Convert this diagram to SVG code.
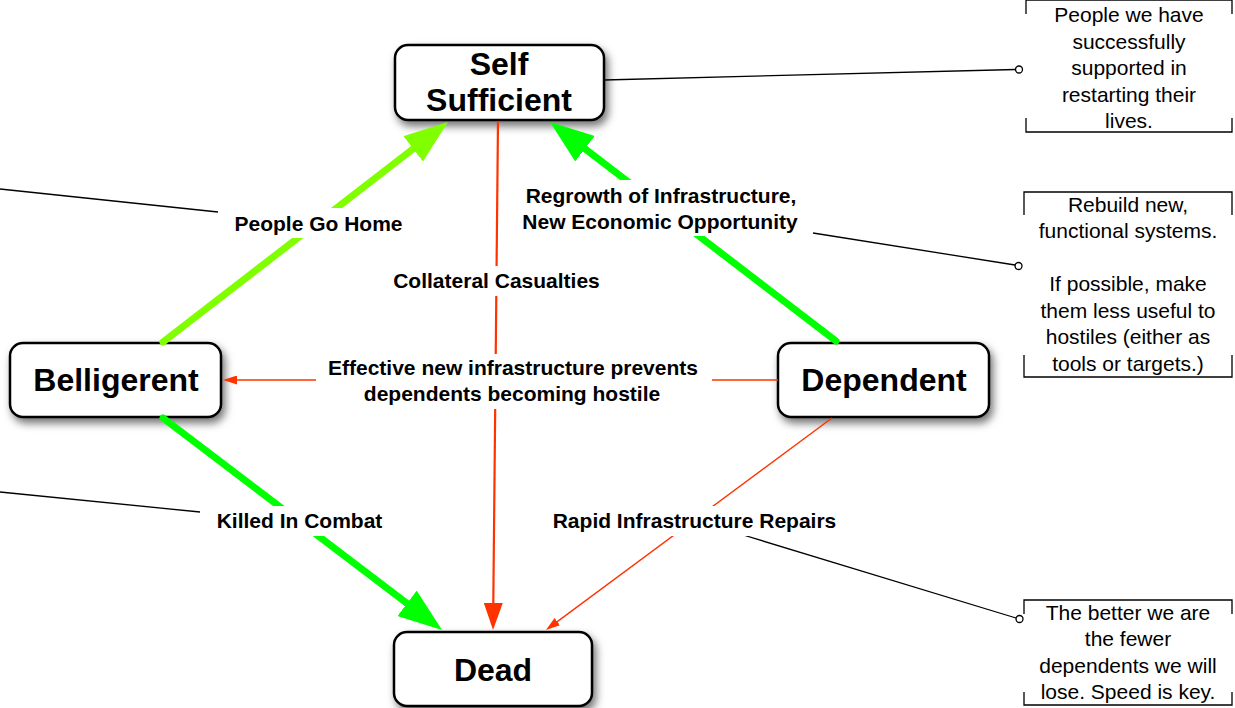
<svg xmlns="http://www.w3.org/2000/svg" width="1235" height="708" viewBox="0 0 1235 708">
<style>
  .node rect { fill: #ffffff; stroke: #000000; stroke-width: 2.5; filter: url(#shadow); }
  .ntext { font-family: "Liberation Sans", Arial, Helvetica, sans-serif; font-weight: bold; font-size: 32px; fill: #000; text-anchor: middle; }
  .lbl { font-family: "Liberation Sans", Arial, Helvetica, sans-serif; font-weight: bold; font-size: 21px; fill: #000; text-anchor: middle; }
  .lblbg { fill: #ffffff; }
  .note { font-family: "Liberation Sans", Arial, Helvetica, sans-serif; font-size: 21px; fill: #000; text-anchor: middle; }
  .bracket { fill: none; stroke: #000; stroke-width: 1.3; }
  .lead { fill: none; stroke: #000; stroke-width: 1.3; }
  .dot { fill: #fff; stroke: #000; stroke-width: 1.3; }
  .lg { fill: none; stroke: #80ff00; stroke-width: 7; stroke-linecap: round; }
  .g { fill: none; stroke: #00ff00; stroke-width: 7; stroke-linecap: round; }
  .rbig { fill: none; stroke: #ff3300; stroke-width: 2.2; }
  .rsm { fill: none; stroke: #ff3300; stroke-width: 1.4; }
</style>
<defs>
  <filter id="shadow" x="-20%" y="-30%" width="140%" height="170%">
    <feDropShadow dx="3" dy="5" stdDeviation="4" flood-color="#000" flood-opacity="0.55"/>
  </filter>
  <marker id="headLG" viewBox="0 0 44 32" markerWidth="44" markerHeight="32" refX="30" refY="16" orient="auto" markerUnits="userSpaceOnUse">
    <path d="M0,0 L44,16 L0,32 Z" fill="#80ff00"/>
  </marker>
  <marker id="headG" viewBox="0 0 44 32" markerWidth="44" markerHeight="32" refX="30" refY="16" orient="auto" markerUnits="userSpaceOnUse">
    <path d="M0,0 L44,16 L0,32 Z" fill="#00ff00"/>
  </marker>
  <marker id="headRB" viewBox="0 0 27 19" markerWidth="27" markerHeight="19" refX="20" refY="9.5" orient="auto" markerUnits="userSpaceOnUse">
    <path d="M0,0 L27,9.5 L0,19 Z" fill="#ff3300"/>
  </marker>
  <marker id="headRS" viewBox="0 0 14 9" markerWidth="14" markerHeight="9" refX="10" refY="4.5" orient="auto" markerUnits="userSpaceOnUse">
    <path d="M0,0 L14,4.5 L0,9 Z" fill="#ff3300"/>
  </marker>
</defs>
<rect x="0" y="0" width="1235" height="708" fill="#ffffff"/>

<g id="node-self-sufficient" class="node">
  <rect x="395" y="45" width="209" height="75" rx="13" ry="13"/>
  <text class="ntext" x="499" y="75">Self</text>
  <text class="ntext" x="499" y="111">Sufficient</text>
</g>
<g id="node-belligerent" class="node">
  <rect x="10" y="343" width="211" height="74" rx="13" ry="13"/>
  <text class="ntext" x="116" y="391">Belligerent</text>
</g>
<g id="node-dependent" class="node">
  <rect x="778" y="343" width="211" height="74" rx="13" ry="13"/>
  <text class="ntext" x="884" y="391">Dependent</text>
</g>
<g id="node-dead" class="node">
  <rect x="394" y="632" width="198" height="74" rx="13" ry="13"/>
  <text class="ntext" x="493" y="681">Dead</text>
</g>

<g id="connectors">
  <line class="lg" x1="163" y1="342" x2="436.9" y2="130.6" marker-end="url(#headLG)"/>
  <line class="g" x1="836" y1="341" x2="561.1" y2="130.5" marker-end="url(#headG)"/>
  <line class="g" x1="163" y1="418" x2="430.9" y2="621.5" marker-end="url(#headG)"/>
  <line class="rbig" x1="498" y1="121" x2="493.1" y2="623" marker-end="url(#headRB)"/>
  <line class="rsm" x1="778" y1="380" x2="227" y2="380" marker-end="url(#headRS)"/>
  <line class="rsm" x1="832" y1="418" x2="549.2" y2="627.6" marker-end="url(#headRS)"/>
  <line class="lead" x1="604" y1="80" x2="1015.5" y2="69.5"/>
  <line class="lead" x1="813" y1="233" x2="1015" y2="265"/>
  <line class="lead" x1="740" y1="534" x2="1016" y2="618"/>
  <line class="lead" x1="0" y1="189" x2="218" y2="212"/>
  <line class="lead" x1="0" y1="492" x2="200" y2="512"/>
  <circle class="dot" cx="1019" cy="69.5" r="3.5"/>
  <circle class="dot" cx="1018.5" cy="266" r="3.5"/>
  <circle class="dot" cx="1019.5" cy="619" r="3.5"/>
</g>

<g id="labels">
  <rect class="lblbg" x="228" y="208" width="181" height="30"/>
  <text class="lbl" x="318.5" y="231">People Go Home</text>
  <rect class="lblbg" x="515" y="180" width="292" height="56"/>
  <text class="lbl" x="661" y="203">Regrowth of Infrastructure,</text>
  <text class="lbl" x="660" y="229">New Economic Opportunity</text>
  <rect class="lblbg" x="386" y="266" width="221" height="30"/>
  <text class="lbl" x="496.5" y="288">Collateral Casualties</text>
  <rect class="lblbg" x="316" y="354" width="396" height="55"/>
  <text class="lbl" x="513" y="375">Effective new infrastructure prevents</text>
  <text class="lbl" x="512" y="401">dependents becoming hostile</text>
  <rect class="lblbg" x="210" y="506" width="180" height="30"/>
  <text class="lbl" x="299.5" y="528">Killed In Combat</text>
  <rect class="lblbg" x="545" y="506" width="299" height="30"/>
  <text class="lbl" x="694.5" y="528">Rapid Infrastructure Repairs</text>
</g>

<g id="note-self-sufficient">
  <path class="bracket" d="M1026,14 V0 H1232 V14"/>
  <path class="bracket" d="M1026,118 V132 H1232 V118"/>
  <text class="note" x="1129" y="22">People we have</text>
  <text class="note" x="1129" y="49">successfully</text>
  <text class="note" x="1129" y="75">supported in</text>
  <text class="note" x="1129" y="102">restarting their</text>
  <text class="note" x="1129" y="128">lives.</text>
</g>
<g id="note-rebuild">
  <path class="bracket" d="M1024,215 V192 H1232 V215"/>
  <path class="bracket" d="M1024,355 V377 H1232 V355"/>
  <text class="note" x="1128" y="212">Rebuild new,</text>
  <text class="note" x="1128" y="238">functional systems.</text>
  <text class="note" x="1128" y="291">If possible, make</text>
  <text class="note" x="1128" y="318">them less useful to</text>
  <text class="note" x="1128" y="344">hostiles (either as</text>
  <text class="note" x="1128" y="371">tools or targets.)</text>
</g>
<g id="note-speed">
  <path class="bracket" d="M1024,614 V600 H1232 V614"/>
  <path class="bracket" d="M1024,692 V705 H1232 V692"/>
  <text class="note" x="1128" y="620">The better we are</text>
  <text class="note" x="1128" y="646">the fewer</text>
  <text class="note" x="1128" y="673">dependents we will</text>
  <text class="note" x="1128" y="699">lose. Speed is key.</text>
</g>
</svg>
